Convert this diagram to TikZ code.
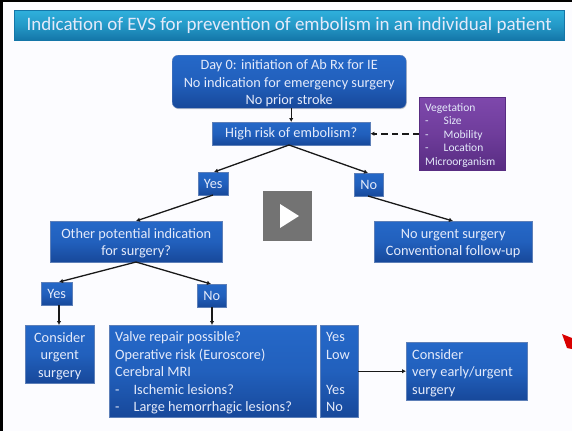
\documentclass[tikz,border=0pt]{standalone}
\usepackage{fontspec}
\setmainfont{Carlito}
\usetikzlibrary{arrows.meta,shadows,calc}
\definecolor{bgc}{HTML}{FCFCFF}
\definecolor{btop}{HTML}{2568C8}
\definecolor{bbot}{HTML}{17489A}
\definecolor{ptop}{HTML}{7E48AC}
\definecolor{pbot}{HTML}{582C82}
\definecolor{ttop}{HTML}{2FB0DC}
\definecolor{tbot}{HTML}{1476A8}
\definecolor{txtc}{HTML}{E4EAFA}
\tikzset{
  x=1pt,y=-1pt,
  bluebox/.style={inner sep=0pt,top color=btop,bottom color=bbot,middle color=btop!75!bbot,draw=bbot!70!white,line width=.4pt,text=txtc,font=\fontsize{14.3}{17.4}\selectfont,align=center,drop shadow={shadow xshift=.6pt,shadow yshift=-1pt,opacity=.35}},
  purplebox/.style={bluebox,top color=ptop,bottom color=pbot,middle color=ptop!60!pbot,draw=pbot,font=\fontsize{11.5}{13.4}\selectfont},
  titlebox/.style={bluebox,top color=ttop,bottom color=tbot,middle color=ttop!60!tbot,draw=tbot,font=\fontsize{19}{24}\selectfont},
  conn/.style={draw=black!90,line width=1.3pt,-{Latex[length=4pt,width=4.5pt]}},
  dashconn/.style={conn,dash pattern=on 6.5pt off 4pt,line width=1.8pt},
}
\newcommand{\bx}[7][bluebox]{% style,name,x0,y0,x1,y1,text
  \node[#1,minimum width=#5-#3,minimum height=#6-#4,anchor=north west] (#2) at (#3,#4) {#7};}
\newcommand{\lft}[2]{\raisebox{-2pt}[\height][\depth]{\makebox[#1][l]{\begin{tabular}{@{}l@{}}#2\end{tabular}}}}
\newcommand{\ctr}[1]{\raisebox{-2pt}[\height][\depth]{\begin{tabular}{@{}c@{}}#1\end{tabular}}}
\begin{document}
\begin{tikzpicture}
\useasboundingbox (0,0) rectangle (572,431);
\fill[bgc] (0,0) rectangle (572,431);
\fill[black] (0,0) rectangle (572,2);
\fill[black] (0,0) rectangle (3,431);
\bx[titlebox]{title}{14}{10}{564}{40}{Indication of EVS for prevention of embolism in an individual patient}
\bx[bluebox,rounded corners=6pt]{day}{172}{55}{406}{108}{\ctr{Day 0: initiation of Ab Rx for IE\\No indication for emergency surgery\\No prior stroke}}
\bx{risk}{212}{122}{370}{145}{High risk of embolism?}
\bx[purplebox]{veg}{419}{97}{505}{170}{\lft{74pt}{Vegetation\\-\hspace{15pt}Size\\-\hspace{15pt}Mobility\\-\hspace{15pt}Location\\Microorganism}}
\bx{yesa}{198}{172}{228}{195}{Yes}
\bx{noa}{354}{173}{383}{196}{No}
\bx{other}{50}{221}{222}{262}{\ctr{Other potential indication\\for surgery?}}
\bx{nourg}{374}{221}{532}{262}{\ctr{No urgent surgery\\Conventional follow-up}}
\bx{yesb}{41}{282}{72}{305}{Yes}
\bx{nob}{197}{284}{226}{307}{No}
\bx{urg}{25}{325}{94}{383}{\ctr{Consider\\urgent\\surgery}}
\bx{valve}{109}{325}{316}{417}{\lft{195pt}{Valve repair possible?\\Operative risk (Euroscore)\\Cerebral MRI\\-\hspace{14pt}Ischemic lesions?\\-\hspace{14pt}Large hemorrhagic lesions?}}
\bx{ans}{320}{325}{358}{417}{\lft{26pt}{Yes\\Low\\ \\Yes\\No}}
\bx{early}{406}{342}{527}{400}{\lft{109pt}{Consider\\very early/urgent\\surgery}}
% connectors
\draw[conn] (day.south -| risk.north) -- (risk.north);
\draw[dashconn] (veg.west |- risk.east) -- (risk.east);
\coordinate (rs) at (289,145);
\coordinate (ya) at (214,172);
\coordinate (na) at (368,173);
\draw[conn] (rs) -- (ya);
\draw[conn] (rs) -- (na);
\coordinate (ys) at (213,195);
\coordinate (ot) at (136,221);
\draw[conn] (ys) -- (ot);
\coordinate (ns) at (368,196);
\coordinate (nt) at (453,221);
\draw[conn] (ns) -- (nt);
\coordinate (os) at (136,262);
\coordinate (yb) at (59,282);
\coordinate (nb) at (211,284);
\draw[conn] (os) -- (yb);
\draw[conn] (os) -- (nb);
\coordinate (ybs) at (59,305);
\coordinate (ut) at (59,325);
\draw[conn] (ybs) -- (ut);
\coordinate (nbs) at (212,307);
\coordinate (vt) at (212,325);
\draw[conn] (nbs) -- (vt);
\draw[conn] (ans.east |- early.west) -- (early.west);
% play button
\fill[black!55] (263,191) rectangle (312,241);
\fill[white] (280,204) -- (299,216) -- (280,228) -- cycle;
% pointer
\fill[red!85!black] (562,334) -- (572,338) -- (572,349) -- (567,348) -- cycle;
\end{tikzpicture}
\end{document}
